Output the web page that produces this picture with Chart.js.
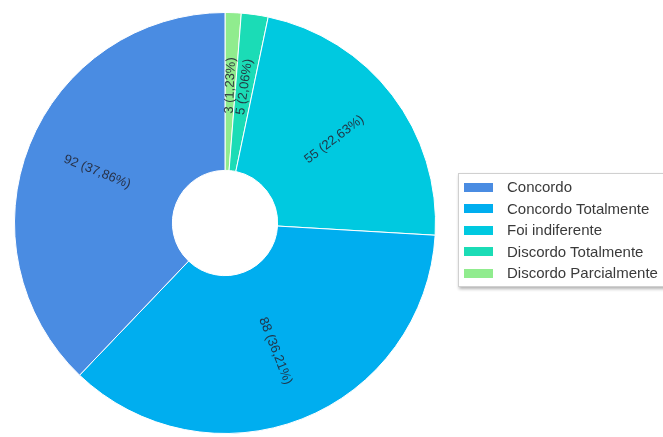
<!DOCTYPE html>
<html>
<head>
<meta charset="utf-8">
<script src="https://cdn.jsdelivr.net/npm/chart.js@4.4.1/dist/chart.umd.min.js"></script>
<style>
    html, body { margin: 0; padding: 0; background: #fff; }
    #wrap { position: relative; width: 663px; height: 437px; overflow: hidden; }
    #legenda {
        position: absolute; left: 458px; top: 173px; width: 215px;
        padding: 2px 0 2px 0;
        background: #fff; border: 1px solid #d0d0d0;
        box-shadow: 1px 2px 3px rgba(0, 0, 0, 0.3);
        font-family: "Liberation Sans", Arial, sans-serif; font-size: 15px; color: #3a3a3a;
    }
    #legenda .item { height: 21.6px; line-height: 21.6px; white-space: nowrap; }
    #legenda .cor { display: inline-block; width: 29px; height: 9px; margin: 0 14px 0 5px; vertical-align: middle; position: relative; top: -1px; }
</style>
</head>
<body>
<div id="wrap">
    <canvas id="grafico" width="663" height="437"></canvas>
    <div id="legenda"></div>
</div>
<script>
// Respostas da pesquisa (ordem da legenda)
const categorias = ['Concordo', 'Concordo Totalmente', 'Foi indiferente', 'Discordo Totalmente', 'Discordo Parcialmente'];
const respostas = [92, 88, 55, 5, 3];
const cores = ['#4a8ce2', '#00aeef', '#00c9e0', '#1bdcb6', '#90ec8e'];

const total = respostas.reduce((a, b) => a + b, 0);

// As fatias seguem no sentido anti-horário a partir do topo,
// então o gráfico recebe os dados invertidos
const labelsGrafico = categorias.slice().reverse();
const dadosGrafico = respostas.slice().reverse();
const coresGrafico = cores.slice().reverse();

// Plugin simples para escrever "valor (pct%)" girado ao longo do raio
const rotulosFatias = {
    id: 'rotulosFatias',
    afterDatasetsDraw(chart) {
        const ctx = chart.ctx;
        const meta = chart.getDatasetMeta(0);
        ctx.save();
        ctx.font = '13px "Liberation Sans", Arial, sans-serif';
        ctx.fillStyle = 'rgba(35, 40, 55, 0.9)';
        ctx.textAlign = 'center';
        ctx.textBaseline = 'middle';
        meta.data.forEach((arc, i) => {
            const p = arc.getProps(['x', 'y', 'startAngle', 'endAngle', 'innerRadius', 'outerRadius'], true);
            const meio = (p.startAngle + p.endAngle) / 2;
            const r = (p.innerRadius + p.outerRadius) / 2 + 6;
            const valor = dadosGrafico[i];
            const pct = (valor / total * 100).toFixed(2).replace('.', ',');
            let ang = meio;
            // mantém o texto legível (nunca de cabeça para baixo)
            if (Math.cos(ang) < 0) ang += Math.PI;
            ctx.save();
            ctx.translate(p.x + Math.cos(meio) * r, p.y + Math.sin(meio) * r);
            ctx.rotate(ang);
            ctx.fillText(valor + ' (' + pct + '%)', 0, 0);
            ctx.restore();
        });
        ctx.restore();
    }
};

const ctx = document.getElementById('grafico').getContext('2d');
const grafico = new Chart(ctx, {
    type: 'doughnut',
    data: {
        labels: labelsGrafico,
        datasets: [{
            data: dadosGrafico,
            backgroundColor: coresGrafico,
            borderColor: '#ffffff',
            borderWidth: 1
        }]
    },
    options: {
        responsive: false,
        animation: false,
        cutout: '25%',
        layout: { padding: { left: 14, right: 227, top: 12, bottom: 3 } },
        plugins: {
            legend: { display: false },
            tooltip: { enabled: false }
        }
    },
    plugins: [rotulosFatias]
});

// Legenda em HTML com caixa e sombra
const legenda = document.getElementById('legenda');
categorias.forEach((nome, i) => {
    const item = document.createElement('div');
    item.className = 'item';
    const cor = document.createElement('span');
    cor.className = 'cor';
    cor.style.background = cores[i];
    item.appendChild(cor);
    item.appendChild(document.createTextNode(nome));
    legenda.appendChild(item);
});
</script>
</body>
</html>
